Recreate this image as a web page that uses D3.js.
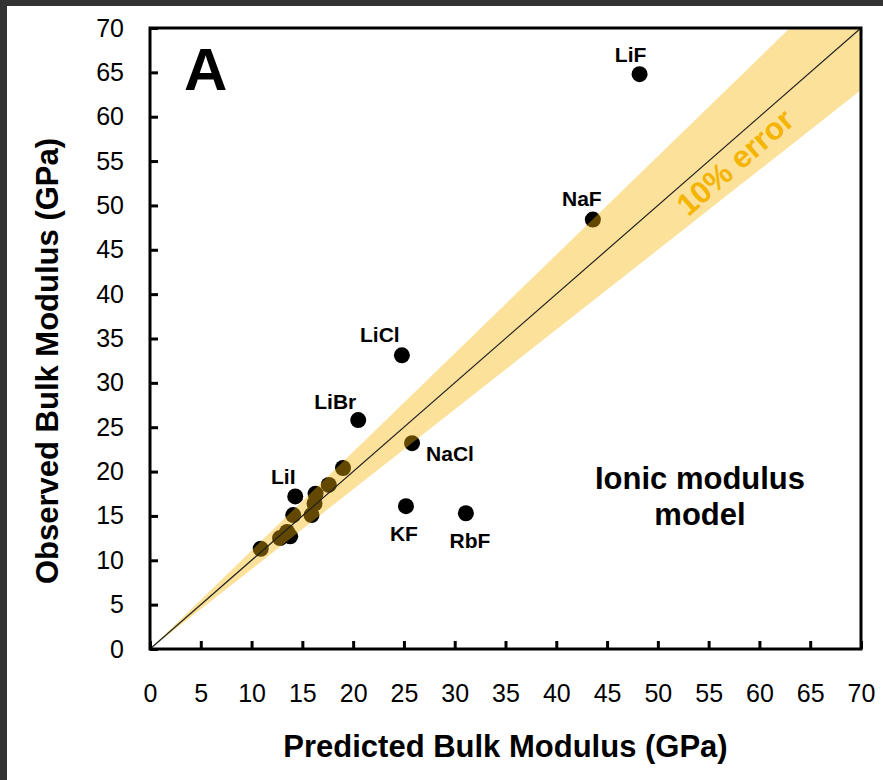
<!DOCTYPE html>
<html>
<head>
<meta charset="utf-8">
<script src="https://cdn.jsdelivr.net/npm/d3@7"></script>
<style>
  html, body { margin: 0; padding: 0; background: #fff; }
  svg { display: block; }
  text { font-family: Arial, "Liberation Sans", sans-serif; }
</style>
</head>
<body>
<div id="viz"></div>
<script>
// compounds, predicted vs observed bulk modulus (GPa); blank name = unlabelled
const names = ['LiF', 'NaF', 'LiCl', 'LiBr', 'NaCl', 'LiI', 'KF', 'RbF',
    '', '', '', '', '', '', '', '', '', '']
const predicted = [48.2, 43.6, 24.8, 20.5, 25.8, 14.3, 25.2, 31.1,
    19.0, 17.6, 16.3, 16.2, 15.9, 14.1, 13.5, 12.8, 13.8, 10.9]
const observed = [64.8, 48.4, 33.1, 25.8, 23.2, 17.2, 16.1, 15.3,
    20.4, 18.5, 17.5, 16.4, 15.1, 15.1, 13.2, 12.5, 12.7, 11.3]
const ticks = [0, 5, 10, 15, 20, 25, 30, 35, 40, 45, 50, 55, 60, 65, 70]
const errorFrac = 0.1

// label placement relative to each dot, in px
const labelOffset = {
    LiF: [-9, -12], NaF: [-11, -14], LiCl: [-22, -13], LiBr: [-23, -11],
    NaCl: [38, 18], LiI: [-12, -12], KF: [-2, 35], RbF: [4, 35]
}

const data = names.map((n, i) => ({ name: n, x: predicted[i], y: observed[i] }))

const width = 883,
    height = 780
const margin = { top: 28, right: 22, bottom: 131, left: 150 },
    innerWidth = width - margin.left - margin.right,
    innerHeight = height - margin.top - margin.bottom

const svg = d3.select('#viz').append('svg')
    .attr('width', width)
    .attr('height', height)

// dark frame strips along the top and left edges
svg.append('rect').attr('x', 0).attr('y', 0).attr('width', width).attr('height', 6).attr('fill', '#333')
svg.append('rect').attr('x', 0).attr('y', 0).attr('width', 7).attr('height', height).attr('fill', '#333')

const g = svg.append('g')
    .attr('transform', `translate(${margin.left}, ${margin.top})`)

const x = d3.scaleLinear().domain([0, 70]).range([0, innerWidth])
const y = d3.scaleLinear().domain([0, 70]).range([innerHeight, 0])

g.append('clipPath').attr('id', 'plotClip')
    .append('rect').attr('width', innerWidth).attr('height', innerHeight)

// dots
g.selectAll('circle.pt').data(data)
    .enter()
    .append('circle')
    .attr('class', 'pt')
    .attr('cx', d => x(d.x))
    .attr('cy', d => y(d.y))
    .attr('r', 8)
    .attr('fill', '#000')

// 10% error band, laid over the dots
const bandPts = [[0, 0], [70, 70 / (1 - errorFrac)], [70, 70 * (1 - errorFrac)]]
g.append('path')
    .attr('clip-path', 'url(#plotClip)')
    .attr('d', d3.line().x(d => x(d[0])).y(d => y(d[1]))(bandPts) + 'Z')
    .attr('fill', '#F5B400')
    .attr('fill-opacity', 0.4)

// y = x
g.append('line')
    .attr('x1', x(0)).attr('y1', y(0))
    .attr('x2', x(70)).attr('y2', y(70))
    .attr('stroke', '#222')
    .attr('stroke-width', 1.2)

const angle = Math.atan2(y(0) - y(70), x(70) - x(0)) * 180 / Math.PI
const tx = x(57.6), ty = y(57.6 * 0.953)
g.append('text')
    .attr('transform', `translate(${tx}, ${ty}) rotate(${-angle})`)
    .attr('text-anchor', 'middle')
    .attr('dy', '0.35em')
    .attr('font-size', 31)
    .attr('font-weight', 'bold')
    .attr('fill', '#F4B400')
    .text('10% error')

// compound labels
g.selectAll('text.lbl').data(data.filter(d => d.name))
    .enter()
    .append('text')
    .attr('class', 'lbl')
    .attr('x', d => x(d.x) + labelOffset[d.name][0])
    .attr('y', d => y(d.y) + labelOffset[d.name][1])
    .attr('text-anchor', 'middle')
    .attr('font-size', 21)
    .attr('font-weight', 'bold')
    .text(d => d.name)

// axes, ticks pointing inward
const xAxis = d3.axisBottom(x).tickValues(ticks).tickSizeInner(-8).tickSizeOuter(0).tickPadding(35)
const yAxis = d3.axisLeft(y).tickValues(ticks).tickSizeInner(-8).tickSizeOuter(0).tickPadding(26)

const xAxisG = g.append('g').call(xAxis)
xAxisG.attr('transform', `translate(0, ${innerHeight})`)
const yAxisG = g.append('g').call(yAxis)

g.selectAll('.tick line').attr('stroke', '#000').attr('stroke-width', 3)
g.selectAll('.domain').attr('stroke', 'none')
g.selectAll('.tick text')
    .attr('font-size', 25)
    .attr('font-family', 'Arial, "Liberation Sans", sans-serif')
    .attr('fill', '#000')

// plot box
g.append('rect')
    .attr('width', innerWidth)
    .attr('height', innerHeight)
    .attr('fill', 'none')
    .attr('stroke', '#000')
    .attr('stroke-width', 3)

// panel letter
g.append('text')
    .attr('x', 34).attr('y', 62)
    .attr('font-size', 60)
    .attr('font-weight', 'bold')
    .text('A')

// model name
const note = g.append('text')
    .attr('text-anchor', 'middle')
    .attr('font-size', 31)
    .attr('font-weight', 'bold')
note.append('tspan').attr('x', 550).attr('y', 461).text('Ionic modulus')
note.append('tspan').attr('x', 550).attr('y', 497).text('model')

// axis titles
svg.append('text')
    .attr('x', margin.left + innerWidth / 2)
    .attr('y', 757)
    .attr('text-anchor', 'middle')
    .attr('font-size', 31)
    .attr('font-weight', 'bold')
    .text('Predicted Bulk Modulus (GPa)')

svg.append('text')
    .attr('transform', 'translate(58, 361) rotate(-90)')
    .attr('text-anchor', 'middle')
    .attr('font-size', 31)
    .attr('font-weight', 'bold')
    .text('Observed Bulk Modulus (GPa)')
</script>
</body>
</html>
